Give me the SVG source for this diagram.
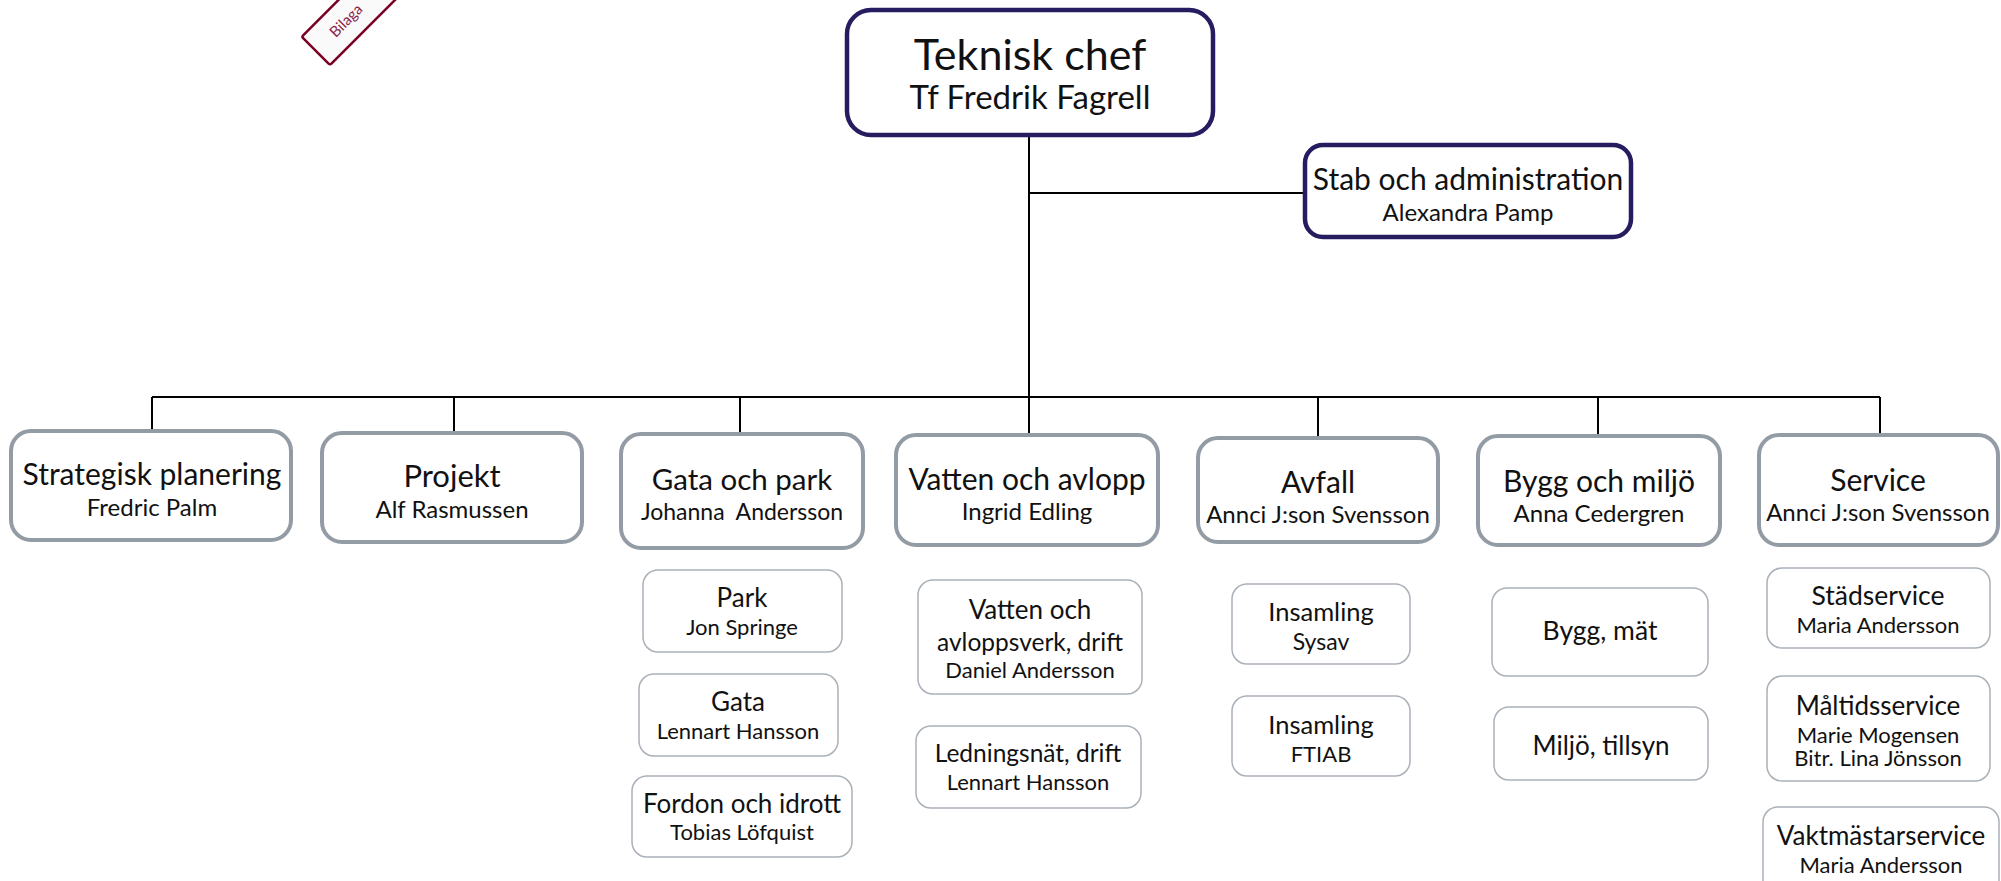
<svg xmlns="http://www.w3.org/2000/svg" width="2001" height="881" viewBox="0 0 2001 881">
<style>
text{font-family:Lato,"Open Sans","Liberation Sans",sans-serif;fill:#111;text-anchor:middle}
.top{fill:#fff;stroke:#251d5f;stroke-width:4.5}
.l2{fill:#fff;stroke:#939ca5;stroke-width:4}
.l3{fill:#fff;stroke:#aab1b9;stroke-width:1.5}
.conn{stroke:#000;stroke-width:2;fill:none}
.t0{font-size:43px}.n0{font-size:33px}
.t1{font-size:30px}.n1{font-size:24px}
.t2{font-size:30px}.n2{font-size:24px}
.t3{font-size:26px}.n3{font-size:22px}
</style>
<rect width="2001" height="881" fill="#fff"/>
<g id="stamp" transform="translate(330,65) rotate(-45)">
<rect x="0" y="-40" width="220" height="40" rx="2" fill="#fafafa" stroke="#7a0022" stroke-width="2.5"/>
<text x="23" y="-15" style="font-size:15px;fill:#8a2545;text-anchor:start">Bilaga</text>
</g>
<g id="connectors">
<path class="conn" d="M1029,137V435M1029,193H1303M152,397H1880M152,397V431M454,397V433M740,397V434M1318,397V438M1598,397V436M1880,397V435"/>
</g>
<g id="teknisk-chef"><rect class="top" x="847" y="10" width="366" height="125" rx="24"/>
<text class="t0" x="1030" y="70">Teknisk chef</text><text class="n0" x="1030" y="109">Tf Fredrik Fagrell</text></g>
<g id="stab"><rect class="top" x="1305" y="145" width="326" height="92" rx="18"/>
<text class="t1" x="1468" y="190">Stab och administration</text><text class="n1" x="1468" y="221">Alexandra Pamp</text></g>
<g id="strategisk"><rect class="l2" x="11" y="431" width="280" height="109" rx="20"/>
<text class="t2" x="152" y="485">Strategisk planering</text><text class="n2" x="152" y="516">Fredric Palm</text></g>
<g id="projekt"><rect class="l2" x="322" y="433" width="260" height="109" rx="20"/>
<text class="t2" x="452" y="487" style="font-size:31px">Projekt</text><text class="n2" x="452" y="518">Alf Rasmussen</text></g>
<g id="gata-och-park"><rect class="l2" x="621" y="434" width="242" height="114" rx="20"/>
<text class="t2" x="742" y="490" style="font-size:29.5px">Gata och park</text><text class="n2" x="742" y="520" xml:space="preserve" style="font-size:23px;white-space:pre">Johanna  Andersson</text></g>
<g id="vatten-och-avlopp"><rect class="l2" x="896" y="435" width="262" height="110" rx="20"/>
<text class="t2" x="1027" y="490">Vatten och avlopp</text><text class="n2" x="1027" y="520">Ingrid Edling</text></g>
<g id="avfall"><rect class="l2" x="1198" y="438" width="240" height="104" rx="20"/>
<text class="t2" x="1318" y="493">Avfall</text><text class="n2" x="1318" y="523">Annci J:son Svensson</text></g>
<g id="bygg-och-miljo"><rect class="l2" x="1478" y="436" width="242" height="109" rx="20"/>
<text class="t2" x="1599" y="492">Bygg och miljö</text><text class="n2" x="1599" y="522">Anna Cedergren</text></g>
<g id="service"><rect class="l2" x="1759" y="435" width="239" height="110" rx="20"/>
<text class="t2" x="1878" y="491">Service</text><text class="n2" x="1878" y="521">Annci J:son Svensson</text></g>
<g id="park"><rect class="l3" x="643" y="570" width="199" height="82" rx="15"/>
<text class="t3" x="742" y="607">Park</text><text class="n3" x="742" y="635">Jon Springe</text></g>
<g id="gata"><rect class="l3" x="639" y="674" width="199" height="82" rx="15"/>
<text class="t3" x="738" y="711">Gata</text><text class="n3" x="738" y="739">Lennart Hansson</text></g>
<g id="fordon"><rect class="l3" x="632" y="776" width="220" height="81" rx="15"/>
<text class="t3" x="742" y="813">Fordon och idrott</text><text class="n3" x="742" y="840">Tobias Löfquist</text></g>
<g id="vatten-drift"><rect class="l3" x="918" y="580" width="224" height="114" rx="15"/>
<text class="t3" x="1030" y="619">Vatten och</text><text class="t3" x="1030" y="651" style="font-size:24.5px">avloppsverk, drift</text><text class="n3" x="1030" y="678">Daniel Andersson</text></g>
<g id="ledningsnat"><rect class="l3" x="916" y="726" width="225" height="82" rx="15"/>
<text class="t3" x="1028" y="762" style="font-size:24.5px">Ledningsnät, drift</text><text class="n3" x="1028" y="790">Lennart Hansson</text></g>
<g id="insamling-sysav"><rect class="l3" x="1232" y="584" width="178" height="80" rx="15"/>
<text class="t3" x="1321" y="621" style="font-size:25.5px">Insamling</text><text class="n3" x="1321" y="650" style="font-size:23px">Sysav</text></g>
<g id="insamling-ftiab"><rect class="l3" x="1232" y="696" width="178" height="80" rx="15"/>
<text class="t3" x="1321" y="734" style="font-size:25.5px">Insamling</text><text class="n3" x="1321" y="762">FTIAB</text></g>
<g id="bygg-mat"><rect class="l3" x="1492" y="588" width="216" height="88" rx="15"/>
<text class="t3" x="1600" y="640" style="font-size:26.5px">Bygg, mät</text></g>
<g id="miljo-tillsyn"><rect class="l3" x="1494" y="707" width="214" height="73" rx="15"/>
<text class="t3" x="1601" y="755">Miljö, tillsyn</text></g>
<g id="stadservice"><rect class="l3" x="1767" y="568" width="223" height="80" rx="15"/>
<text class="t3" x="1878" y="605" style="font-size:26.5px">Städservice</text><text class="n3" x="1878" y="633">Maria Andersson</text></g>
<g id="maltidsservice"><rect class="l3" x="1767" y="676" width="223" height="105" rx="15"/>
<text class="t3" x="1878" y="715">Måltidsservice</text><text class="n3" x="1878" y="743">Marie Mogensen</text><text class="n3" x="1878" y="766">Bitr. Lina Jönsson</text></g>
<g id="vaktmastarservice"><rect class="l3" x="1763" y="807" width="236" height="95" rx="15"/>
<text class="t3" x="1881" y="845">Vaktmästarservice</text><text class="n3" x="1881" y="873">Maria Andersson</text></g>
</svg>
